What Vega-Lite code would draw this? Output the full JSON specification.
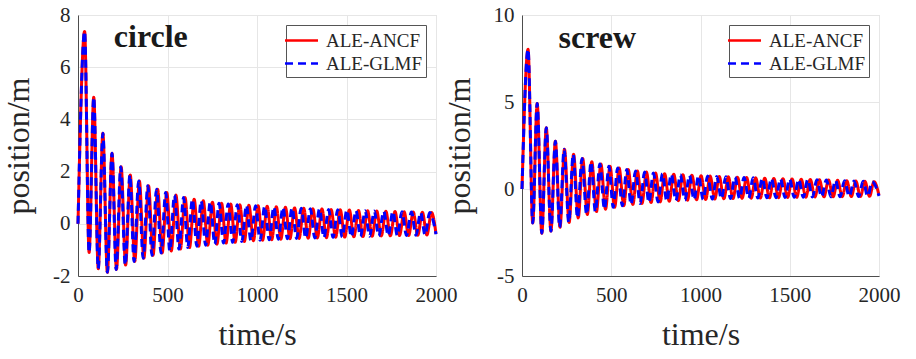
{
  "$schema": "https://vega.github.io/schema/vega-lite/v6.json",
  "padding": {"left": 2, "top": 3, "right": 5, "bottom": 5},
  "config": {
    "font": "Liberation Serif",
    "view": {"stroke": "#d4d4d4", "strokeWidth": 1},
    "axis": {"labelFont": "Liberation Serif", "labelFontSize": 21, "labelColor": "#262626", "titleFont": "Liberation Serif", "titleFontSize": 32, "titleFontWeight": "normal", "titleColor": "#262626", "domainColor": "#4d4d4d", "gridColor": "#e6e6e6", "tickSize": 0, "labelPadding": 8, "labelFlush": false, "labelOverlap": false},
    "legend": {"labelFont": "Liberation Serif", "labelFontSize": 19, "labelColor": "#262626", "symbolType": "M-1.5,0H1.5", "symbolSize": 484, "symbolStrokeWidth": 2.5, "labelOffset": 12, "strokeColor": "#555555", "fillColor": "white", "padding": 3, "rowPadding": 0, "offset": 10, "orient": "top-right", "title": null}
  },
  "datasets": {
    "circle": [
      {"s":"ALE-ANCF","t":0,"y":0},{"s":"ALE-ANCF","t":37,"y":7.37},{"s":"ALE-ANCF","t":62,"y":-1.10},{"s":"ALE-ANCF","t":88,"y":4.85},{"s":"ALE-ANCF","t":113,"y":-1.72},{"s":"ALE-ANCF","t":139,"y":3.47},{"s":"ALE-ANCF","t":164,"y":-1.86},{"s":"ALE-ANCF","t":190,"y":2.70},{"s":"ALE-ANCF","t":215,"y":-1.75},{"s":"ALE-ANCF","t":241,"y":2.19},{"s":"ALE-ANCF","t":266,"y":-1.58},{"s":"ALE-ANCF","t":292,"y":1.87},{"s":"ALE-ANCF","t":317,"y":-1.44},{"s":"ALE-ANCF","t":343,"y":1.64},{"s":"ALE-ANCF","t":368,"y":-1.32},{"s":"ALE-ANCF","t":394,"y":1.46},{"s":"ALE-ANCF","t":419,"y":-1.21},{"s":"ALE-ANCF","t":445,"y":1.32},{"s":"ALE-ANCF","t":470,"y":-1.12},{"s":"ALE-ANCF","t":496,"y":1.20},{"s":"ALE-ANCF","t":521,"y":-1.04},{"s":"ALE-ANCF","t":547,"y":1.10},{"s":"ALE-ANCF","t":572,"y":-0.97},{"s":"ALE-ANCF","t":598,"y":1.01},{"s":"ALE-ANCF","t":623,"y":-0.91},{"s":"ALE-ANCF","t":649,"y":0.94},{"s":"ALE-ANCF","t":674,"y":-0.86},{"s":"ALE-ANCF","t":700,"y":0.88},{"s":"ALE-ANCF","t":725,"y":-0.82},{"s":"ALE-ANCF","t":751,"y":0.83},{"s":"ALE-ANCF","t":776,"y":-0.78},{"s":"ALE-ANCF","t":802,"y":0.79},{"s":"ALE-ANCF","t":827,"y":-0.74},{"s":"ALE-ANCF","t":853,"y":0.76},{"s":"ALE-ANCF","t":878,"y":-0.71},{"s":"ALE-ANCF","t":904,"y":0.73},{"s":"ALE-ANCF","t":929,"y":-0.68},{"s":"ALE-ANCF","t":955,"y":0.71},{"s":"ALE-ANCF","t":980,"y":-0.65},{"s":"ALE-ANCF","t":1006,"y":0.69},{"s":"ALE-ANCF","t":1031,"y":-0.63},{"s":"ALE-ANCF","t":1057,"y":0.67},{"s":"ALE-ANCF","t":1082,"y":-0.61},{"s":"ALE-ANCF","t":1108,"y":0.65},{"s":"ALE-ANCF","t":1133,"y":-0.59},{"s":"ALE-ANCF","t":1159,"y":0.63},{"s":"ALE-ANCF","t":1184,"y":-0.57},{"s":"ALE-ANCF","t":1210,"y":0.61},{"s":"ALE-ANCF","t":1235,"y":-0.56},{"s":"ALE-ANCF","t":1261,"y":0.60},{"s":"ALE-ANCF","t":1286,"y":-0.55},{"s":"ALE-ANCF","t":1312,"y":0.58},{"s":"ALE-ANCF","t":1337,"y":-0.54},{"s":"ALE-ANCF","t":1363,"y":0.57},{"s":"ALE-ANCF","t":1388,"y":-0.53},{"s":"ALE-ANCF","t":1414,"y":0.55},{"s":"ALE-ANCF","t":1439,"y":-0.52},{"s":"ALE-ANCF","t":1465,"y":0.54},{"s":"ALE-ANCF","t":1490,"y":-0.51},{"s":"ALE-ANCF","t":1516,"y":0.53},{"s":"ALE-ANCF","t":1541,"y":-0.50},{"s":"ALE-ANCF","t":1567,"y":0.51},{"s":"ALE-ANCF","t":1592,"y":-0.49},{"s":"ALE-ANCF","t":1618,"y":0.50},{"s":"ALE-ANCF","t":1643,"y":-0.48},{"s":"ALE-ANCF","t":1669,"y":0.49},{"s":"ALE-ANCF","t":1694,"y":-0.47},{"s":"ALE-ANCF","t":1720,"y":0.48},{"s":"ALE-ANCF","t":1745,"y":-0.46},{"s":"ALE-ANCF","t":1771,"y":0.47},{"s":"ALE-ANCF","t":1796,"y":-0.45},{"s":"ALE-ANCF","t":1822,"y":0.46},{"s":"ALE-ANCF","t":1847,"y":-0.45},{"s":"ALE-ANCF","t":1873,"y":0.45},{"s":"ALE-ANCF","t":1898,"y":-0.44},{"s":"ALE-ANCF","t":1924,"y":0.44},{"s":"ALE-ANCF","t":1949,"y":-0.43},{"s":"ALE-ANCF","t":1975,"y":0.43},{"s":"ALE-ANCF","t":2000,"y":-0.38},
      {"s":"ALE-GLMF","t":0,"y":0},{"s":"ALE-GLMF","t":37,"y":7.37},{"s":"ALE-GLMF","t":62,"y":-1.10},{"s":"ALE-GLMF","t":88,"y":4.85},{"s":"ALE-GLMF","t":113,"y":-1.72},{"s":"ALE-GLMF","t":139,"y":3.47},{"s":"ALE-GLMF","t":164,"y":-1.86},{"s":"ALE-GLMF","t":190,"y":2.70},{"s":"ALE-GLMF","t":213,"y":-1.75},{"s":"ALE-GLMF","t":239,"y":2.19},{"s":"ALE-GLMF","t":264,"y":-1.58},{"s":"ALE-GLMF","t":290,"y":1.87},{"s":"ALE-GLMF","t":313,"y":-1.44},{"s":"ALE-GLMF","t":339,"y":1.64},{"s":"ALE-GLMF","t":364,"y":-1.32},{"s":"ALE-GLMF","t":390,"y":1.46},{"s":"ALE-GLMF","t":413,"y":-1.21},{"s":"ALE-GLMF","t":439,"y":1.32},{"s":"ALE-GLMF","t":464,"y":-1.12},{"s":"ALE-GLMF","t":490,"y":1.20},{"s":"ALE-GLMF","t":513,"y":-1.04},{"s":"ALE-GLMF","t":539,"y":1.10},{"s":"ALE-GLMF","t":564,"y":-0.97},{"s":"ALE-GLMF","t":590,"y":1.01},{"s":"ALE-GLMF","t":613,"y":-0.91},{"s":"ALE-GLMF","t":639,"y":0.94},{"s":"ALE-GLMF","t":664,"y":-0.86},{"s":"ALE-GLMF","t":688,"y":0.88},{"s":"ALE-GLMF","t":713,"y":-0.82},{"s":"ALE-GLMF","t":739,"y":0.83},{"s":"ALE-GLMF","t":764,"y":-0.78},{"s":"ALE-GLMF","t":788,"y":0.79},{"s":"ALE-GLMF","t":813,"y":-0.74},{"s":"ALE-GLMF","t":839,"y":0.76},{"s":"ALE-GLMF","t":864,"y":-0.71},{"s":"ALE-GLMF","t":890,"y":0.73},{"s":"ALE-GLMF","t":915,"y":-0.68},{"s":"ALE-GLMF","t":941,"y":0.71},{"s":"ALE-GLMF","t":966,"y":-0.65},{"s":"ALE-GLMF","t":992,"y":0.69},{"s":"ALE-GLMF","t":1017,"y":-0.63},{"s":"ALE-GLMF","t":1043,"y":0.67},{"s":"ALE-GLMF","t":1068,"y":-0.61},{"s":"ALE-GLMF","t":1094,"y":0.65},{"s":"ALE-GLMF","t":1119,"y":-0.59},{"s":"ALE-GLMF","t":1145,"y":0.63},{"s":"ALE-GLMF","t":1170,"y":-0.57},{"s":"ALE-GLMF","t":1196,"y":0.61},{"s":"ALE-GLMF","t":1221,"y":-0.56},{"s":"ALE-GLMF","t":1247,"y":0.60},{"s":"ALE-GLMF","t":1272,"y":-0.55},{"s":"ALE-GLMF","t":1298,"y":0.58},{"s":"ALE-GLMF","t":1323,"y":-0.54},{"s":"ALE-GLMF","t":1349,"y":0.57},{"s":"ALE-GLMF","t":1374,"y":-0.53},{"s":"ALE-GLMF","t":1400,"y":0.55},{"s":"ALE-GLMF","t":1425,"y":-0.52},{"s":"ALE-GLMF","t":1451,"y":0.54},{"s":"ALE-GLMF","t":1476,"y":-0.51},{"s":"ALE-GLMF","t":1502,"y":0.53},{"s":"ALE-GLMF","t":1527,"y":-0.50},{"s":"ALE-GLMF","t":1553,"y":0.51},{"s":"ALE-GLMF","t":1578,"y":-0.49},{"s":"ALE-GLMF","t":1604,"y":0.50},{"s":"ALE-GLMF","t":1629,"y":-0.48},{"s":"ALE-GLMF","t":1655,"y":0.49},{"s":"ALE-GLMF","t":1680,"y":-0.47},{"s":"ALE-GLMF","t":1708,"y":0.48},{"s":"ALE-GLMF","t":1733,"y":-0.46},{"s":"ALE-GLMF","t":1759,"y":0.47},{"s":"ALE-GLMF","t":1784,"y":-0.45},{"s":"ALE-GLMF","t":1810,"y":0.46},{"s":"ALE-GLMF","t":1835,"y":-0.45},{"s":"ALE-GLMF","t":1863,"y":0.45},{"s":"ALE-GLMF","t":1888,"y":-0.44},{"s":"ALE-GLMF","t":1914,"y":0.44},{"s":"ALE-GLMF","t":1939,"y":-0.43},{"s":"ALE-GLMF","t":1965,"y":0.43},{"s":"ALE-GLMF","t":2000,"y":-0.40}
    ],
    "screw": [
      {"s":"ALE-ANCF","t":0,"y":0},{"s":"ALE-ANCF","t":34,"y":8.03},{"s":"ALE-ANCF","t":60,"y":-1.95},{"s":"ALE-ANCF","t":85,"y":4.92},{"s":"ALE-ANCF","t":111,"y":-2.54},{"s":"ALE-ANCF","t":136,"y":3.52},{"s":"ALE-ANCF","t":162,"y":-2.42},{"s":"ALE-ANCF","t":187,"y":2.75},{"s":"ALE-ANCF","t":213,"y":-2.20},{"s":"ALE-ANCF","t":238,"y":2.29},{"s":"ALE-ANCF","t":264,"y":-1.92},{"s":"ALE-ANCF","t":289,"y":2.00},{"s":"ALE-ANCF","t":315,"y":-1.66},{"s":"ALE-ANCF","t":340,"y":1.75},{"s":"ALE-ANCF","t":366,"y":-1.46},{"s":"ALE-ANCF","t":391,"y":1.56},{"s":"ALE-ANCF","t":417,"y":-1.30},{"s":"ALE-ANCF","t":442,"y":1.43},{"s":"ALE-ANCF","t":468,"y":-1.16},{"s":"ALE-ANCF","t":493,"y":1.31},{"s":"ALE-ANCF","t":519,"y":-1.05},{"s":"ALE-ANCF","t":544,"y":1.21},{"s":"ALE-ANCF","t":570,"y":-0.96},{"s":"ALE-ANCF","t":595,"y":1.12},{"s":"ALE-ANCF","t":621,"y":-0.89},{"s":"ALE-ANCF","t":646,"y":1.04},{"s":"ALE-ANCF","t":672,"y":-0.83},{"s":"ALE-ANCF","t":697,"y":0.97},{"s":"ALE-ANCF","t":723,"y":-0.78},{"s":"ALE-ANCF","t":748,"y":0.92},{"s":"ALE-ANCF","t":774,"y":-0.74},{"s":"ALE-ANCF","t":799,"y":0.88},{"s":"ALE-ANCF","t":825,"y":-0.70},{"s":"ALE-ANCF","t":850,"y":0.85},{"s":"ALE-ANCF","t":876,"y":-0.67},{"s":"ALE-ANCF","t":901,"y":0.82},{"s":"ALE-ANCF","t":927,"y":-0.64},{"s":"ALE-ANCF","t":952,"y":0.79},{"s":"ALE-ANCF","t":978,"y":-0.62},{"s":"ALE-ANCF","t":1003,"y":0.76},{"s":"ALE-ANCF","t":1029,"y":-0.60},{"s":"ALE-ANCF","t":1054,"y":0.74},{"s":"ALE-ANCF","t":1080,"y":-0.58},{"s":"ALE-ANCF","t":1105,"y":0.72},{"s":"ALE-ANCF","t":1131,"y":-0.56},{"s":"ALE-ANCF","t":1156,"y":0.70},{"s":"ALE-ANCF","t":1182,"y":-0.55},{"s":"ALE-ANCF","t":1207,"y":0.68},{"s":"ALE-ANCF","t":1233,"y":-0.54},{"s":"ALE-ANCF","t":1258,"y":0.66},{"s":"ALE-ANCF","t":1284,"y":-0.53},{"s":"ALE-ANCF","t":1309,"y":0.64},{"s":"ALE-ANCF","t":1335,"y":-0.52},{"s":"ALE-ANCF","t":1360,"y":0.62},{"s":"ALE-ANCF","t":1386,"y":-0.51},{"s":"ALE-ANCF","t":1411,"y":0.61},{"s":"ALE-ANCF","t":1437,"y":-0.50},{"s":"ALE-ANCF","t":1462,"y":0.59},{"s":"ALE-ANCF","t":1488,"y":-0.49},{"s":"ALE-ANCF","t":1513,"y":0.58},{"s":"ALE-ANCF","t":1539,"y":-0.48},{"s":"ALE-ANCF","t":1564,"y":0.56},{"s":"ALE-ANCF","t":1590,"y":-0.47},{"s":"ALE-ANCF","t":1615,"y":0.55},{"s":"ALE-ANCF","t":1641,"y":-0.46},{"s":"ALE-ANCF","t":1666,"y":0.53},{"s":"ALE-ANCF","t":1692,"y":-0.45},{"s":"ALE-ANCF","t":1717,"y":0.52},{"s":"ALE-ANCF","t":1743,"y":-0.45},{"s":"ALE-ANCF","t":1768,"y":0.50},{"s":"ALE-ANCF","t":1794,"y":-0.44},{"s":"ALE-ANCF","t":1819,"y":0.48},{"s":"ALE-ANCF","t":1845,"y":-0.43},{"s":"ALE-ANCF","t":1870,"y":0.46},{"s":"ALE-ANCF","t":1896,"y":-0.43},{"s":"ALE-ANCF","t":1921,"y":0.44},{"s":"ALE-ANCF","t":1947,"y":-0.42},{"s":"ALE-ANCF","t":1972,"y":0.42},{"s":"ALE-ANCF","t":2000,"y":-0.35},
      {"s":"ALE-GLMF","t":0,"y":0},{"s":"ALE-GLMF","t":34,"y":8.03},{"s":"ALE-GLMF","t":60,"y":-1.95},{"s":"ALE-GLMF","t":85,"y":4.92},{"s":"ALE-GLMF","t":111,"y":-2.54},{"s":"ALE-GLMF","t":136,"y":3.52},{"s":"ALE-GLMF","t":162,"y":-2.42},{"s":"ALE-GLMF","t":187,"y":2.75},{"s":"ALE-GLMF","t":211,"y":-2.20},{"s":"ALE-GLMF","t":236,"y":2.29},{"s":"ALE-GLMF","t":262,"y":-1.92},{"s":"ALE-GLMF","t":287,"y":2.00},{"s":"ALE-GLMF","t":311,"y":-1.66},{"s":"ALE-GLMF","t":336,"y":1.75},{"s":"ALE-GLMF","t":362,"y":-1.46},{"s":"ALE-GLMF","t":387,"y":1.56},{"s":"ALE-GLMF","t":411,"y":-1.30},{"s":"ALE-GLMF","t":436,"y":1.43},{"s":"ALE-GLMF","t":462,"y":-1.16},{"s":"ALE-GLMF","t":487,"y":1.31},{"s":"ALE-GLMF","t":511,"y":-1.05},{"s":"ALE-GLMF","t":536,"y":1.21},{"s":"ALE-GLMF","t":562,"y":-0.96},{"s":"ALE-GLMF","t":587,"y":1.12},{"s":"ALE-GLMF","t":611,"y":-0.89},{"s":"ALE-GLMF","t":636,"y":1.04},{"s":"ALE-GLMF","t":662,"y":-0.83},{"s":"ALE-GLMF","t":687,"y":0.97},{"s":"ALE-GLMF","t":711,"y":-0.78},{"s":"ALE-GLMF","t":736,"y":0.92},{"s":"ALE-GLMF","t":762,"y":-0.74},{"s":"ALE-GLMF","t":787,"y":0.88},{"s":"ALE-GLMF","t":811,"y":-0.70},{"s":"ALE-GLMF","t":836,"y":0.85},{"s":"ALE-GLMF","t":862,"y":-0.67},{"s":"ALE-GLMF","t":887,"y":0.82},{"s":"ALE-GLMF","t":913,"y":-0.64},{"s":"ALE-GLMF","t":938,"y":0.79},{"s":"ALE-GLMF","t":964,"y":-0.62},{"s":"ALE-GLMF","t":989,"y":0.76},{"s":"ALE-GLMF","t":1015,"y":-0.60},{"s":"ALE-GLMF","t":1040,"y":0.74},{"s":"ALE-GLMF","t":1066,"y":-0.58},{"s":"ALE-GLMF","t":1091,"y":0.72},{"s":"ALE-GLMF","t":1117,"y":-0.56},{"s":"ALE-GLMF","t":1142,"y":0.70},{"s":"ALE-GLMF","t":1168,"y":-0.55},{"s":"ALE-GLMF","t":1193,"y":0.68},{"s":"ALE-GLMF","t":1219,"y":-0.54},{"s":"ALE-GLMF","t":1244,"y":0.66},{"s":"ALE-GLMF","t":1270,"y":-0.53},{"s":"ALE-GLMF","t":1295,"y":0.64},{"s":"ALE-GLMF","t":1321,"y":-0.52},{"s":"ALE-GLMF","t":1346,"y":0.62},{"s":"ALE-GLMF","t":1372,"y":-0.51},{"s":"ALE-GLMF","t":1397,"y":0.61},{"s":"ALE-GLMF","t":1423,"y":-0.50},{"s":"ALE-GLMF","t":1448,"y":0.59},{"s":"ALE-GLMF","t":1474,"y":-0.49},{"s":"ALE-GLMF","t":1499,"y":0.58},{"s":"ALE-GLMF","t":1525,"y":-0.48},{"s":"ALE-GLMF","t":1550,"y":0.56},{"s":"ALE-GLMF","t":1576,"y":-0.47},{"s":"ALE-GLMF","t":1601,"y":0.55},{"s":"ALE-GLMF","t":1627,"y":-0.46},{"s":"ALE-GLMF","t":1652,"y":0.53},{"s":"ALE-GLMF","t":1678,"y":-0.45},{"s":"ALE-GLMF","t":1705,"y":0.52},{"s":"ALE-GLMF","t":1731,"y":-0.45},{"s":"ALE-GLMF","t":1756,"y":0.50},{"s":"ALE-GLMF","t":1782,"y":-0.44},{"s":"ALE-GLMF","t":1807,"y":0.48},{"s":"ALE-GLMF","t":1833,"y":-0.43},{"s":"ALE-GLMF","t":1860,"y":0.46},{"s":"ALE-GLMF","t":1886,"y":-0.43},{"s":"ALE-GLMF","t":1911,"y":0.44},{"s":"ALE-GLMF","t":1937,"y":-0.42},{"s":"ALE-GLMF","t":1962,"y":0.42},{"s":"ALE-GLMF","t":2000,"y":-0.40}
    ],
    "labels": [
      {"p":"circle","name":"circle","t":200,"y":7.15},
      {"p":"screw","name":"screw","t":205,"y":8.7}
    ]
  },
  "hconcat": [
    {
      "width": 358, "height": 261,
      "encoding": {
        "x": {"field": "t", "type": "quantitative", "scale": {"domain": [0, 2000], "nice": false, "zero": false, "padding": 0}, "axis": {"values": [0, 500, 1000, 1500, 2000], "format": "d", "title": "time/s", "titlePadding": 14}},
        "y": {"field": "y", "type": "quantitative", "scale": {"domain": [-2, 8], "nice": false, "padding": 0}, "axis": {"values": [-2, 0, 2, 4, 6, 8], "title": "position/m", "titlePadding": 17, "labelExpr": "replace(datum.label, '\u2212', '-')"}}
      },
      "layer": [
        {
          "data": {"name": "circle"},
          "mark": {"type": "line", "interpolate": "monotone", "strokeWidth": 3},
          "encoding": {
            "color": {"field": "s", "type": "nominal", "scale": {"domain": ["ALE-ANCF", "ALE-GLMF"], "range": ["#ff0000", "#0000ff"]}},
            "strokeDash": {"field": "s", "type": "nominal", "scale": {"domain": ["ALE-ANCF", "ALE-GLMF"], "range": [[1, 0], [8, 5]]}}
          }
        },
        {
          "data": {"name": "labels"},
          "transform": [{"filter": "datum.p == 'circle'"}],
          "mark": {"type": "text", "align": "left", "baseline": "middle", "fontSize": 32, "fontWeight": "bold", "font": "Liberation Serif", "color": "#1a1a1a"},
          "encoding": {"text": {"field": "name"}}
        }
      ]
    },
    {
      "width": 357, "height": 261,
      "encoding": {
        "x": {"field": "t", "type": "quantitative", "scale": {"domain": [0, 2000], "nice": false, "zero": false, "padding": 0}, "axis": {"values": [0, 500, 1000, 1500, 2000], "format": "d", "title": "time/s", "titlePadding": 14}},
        "y": {"field": "y", "type": "quantitative", "scale": {"domain": [-5, 10], "nice": false, "padding": 0}, "axis": {"values": [-5, 0, 5, 10], "title": "position/m", "titlePadding": 17, "labelExpr": "replace(datum.label, '\u2212', '-')"}}
      },
      "layer": [
        {
          "data": {"name": "screw"},
          "mark": {"type": "line", "interpolate": "monotone", "strokeWidth": 3},
          "encoding": {
            "color": {"field": "s", "type": "nominal", "scale": {"domain": ["ALE-ANCF", "ALE-GLMF"], "range": ["#ff0000", "#0000ff"]}},
            "strokeDash": {"field": "s", "type": "nominal", "scale": {"domain": ["ALE-ANCF", "ALE-GLMF"], "range": [[1, 0], [8, 5]]}}
          }
        },
        {
          "data": {"name": "labels"},
          "transform": [{"filter": "datum.p == 'screw'"}],
          "mark": {"type": "text", "align": "left", "baseline": "middle", "fontSize": 32, "fontWeight": "bold", "font": "Liberation Serif", "color": "#1a1a1a"},
          "encoding": {"text": {"field": "name"}}
        }
      ]
    }
  ],
  "spacing": -16,
  "resolve": {"scale": {"y": "independent", "x": "independent", "color": "independent", "strokeDash": "independent"}, "legend": {"color": "independent", "strokeDash": "independent"}}
}
